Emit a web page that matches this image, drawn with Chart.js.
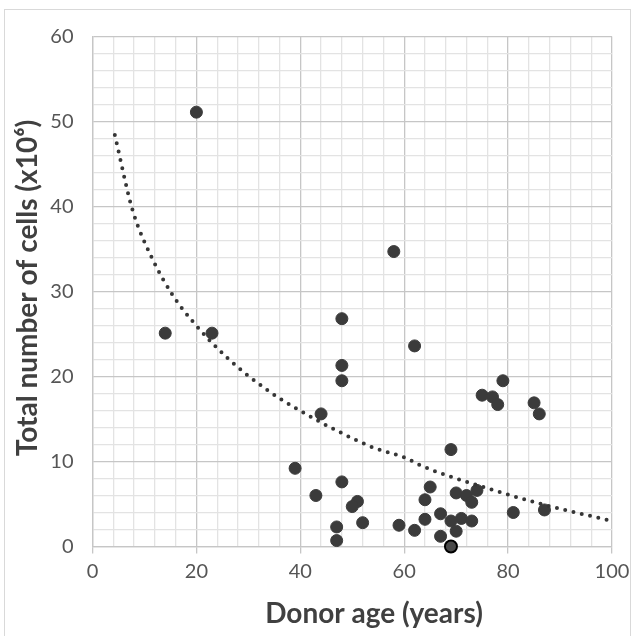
<!DOCTYPE html>
<html>
<head>
<meta charset="utf-8">
<script src="https://cdn.jsdelivr.net/npm/chart.js@4/dist/chart.umd.min.js"></script>
<style>
  html, body { margin: 0; padding: 0; background: #fff; }
  #wrap { position: relative; width: 636px; height: 636px; overflow: hidden; }
  #frame { position: absolute; left: 4px; top: 9px; width: 625px; height: 640px; border: 1px solid #d9d9d9; }
  #chart { position: absolute; left: 0; top: 0; }
</style>
</head>
<body>
<div id="wrap">
  <div id="frame"></div>
  <canvas id="chart" width="636" height="636"></canvas>
</div>
<script>
// donor age (years) and total cells (x10^6)
const ages  = [20, 14, 23, 58, 48, 62, 48, 48, 79, 75, 77, 78, 85, 86, 44, 69, 39, 48, 65, 74, 70,
               43, 72, 64, 51, 73, 50, 87, 81, 67, 71, 64, 69, 73, 52, 59, 47, 62, 70, 67, 47, 69];
const cells = [51.1, 25.1, 25.1, 34.7, 26.8, 23.6, 21.3, 19.5, 19.5, 17.8, 17.6, 16.7, 16.9, 15.6,
               15.6, 11.4, 9.2, 7.6, 7.0, 6.6, 6.3, 6.0, 6.0, 5.5, 5.3, 5.2, 4.7, 4.3, 4.0, 3.85,
               3.3, 3.2, 3.0, 3.0, 2.8, 2.5, 2.3, 1.9, 1.8, 1.2, 0.7, 0.0];

// dotted trend line
const trendX = [4.3, 7.7, 11.4, 15.4, 19.4, 26.1, 33.9, 39.6, 46.8, 54.2, 60.4, 63.3, 76, 87, 100];
const trendY = [48.4, 39.6, 34.0, 29.6, 26.4, 22.1, 18.3, 16.1, 13.7, 11.6, 10.4, 9.5, 6.85, 4.9, 3.0];

const xTickLabels = [0, 20, 40, 60, 80, 100];
const yTickLabels = [0, 10, 20, 30, 40, 50, 60];

const xTitle = 'Donor age (years)';
const yTitle = 'Total number of cells (x10\u2076)';

const majorGrid = '#c6c6c6';
const minorGrid = '#e3e3e3';
const font = 'Lato, "Open Sans", sans-serif';

// axis titles drawn by hand so they sit where Excel put them
const titlePlugin = {
    id: 'titles',
    afterDraw(chart) {
        const ctx = chart.ctx;
        ctx.save();
        ctx.fillStyle = '#404040';
        ctx.font = 'bold 28px ' + font;
        ctx.textAlign = 'center';
        ctx.textBaseline = 'middle';
        ctx.fillText(xTitle, 374, 614);
        ctx.translate(28, 288);
        ctx.rotate(-Math.PI / 2);
        ctx.fillText(yTitle, 0, 0);
        ctx.restore();
    }
};

document.addEventListener('DOMContentLoaded', function() {
    const ctx = document.getElementById('chart').getContext('2d');

    new Chart(ctx, {
        type: 'scatter',
        data: {
            datasets: [
                {
                    label: 'trend',
                    data: trendX.map((x, i) => ({ x: x, y: trendY[i] })),
                    showLine: true,
                    borderColor: '#363636',
                    borderWidth: 4,
                    borderDash: [0, 8.5],
                    borderCapStyle: 'round',
                    cubicInterpolationMode: 'monotone',
                    pointRadius: 0,
                    order: 0
                },
                {
                    label: 'cells',
                    data: ages.map((a, i) => ({ x: a, y: cells[i] })),
                    backgroundColor: c => (c.raw && c.raw.y === 0) ? '#4a4a4a' : '#3b3b3b',
                    borderColor: c => (c.raw && c.raw.y === 0) ? '#000' : '#3b3b3b',
                    borderWidth: c => (c.raw && c.raw.y === 0) ? 2 : 1,
                    pointRadius: 6,
                    clip: false,
                    order: 1
                }
            ]
        },
        options: {
            responsive: false,
            animation: false,
            events: [],
            layout: { padding: { top: 36.5, right: 24, left: 0, bottom: 0 } },
            plugins: { legend: { display: false }, tooltip: { enabled: false } },
            scales: {
                x: {
                    type: 'linear',
                    min: 0,
                    max: 100,
                    afterFit: s => { s.height = 89.5; },
                    ticks: {
                        stepSize: 4,
                        autoSkip: false,
                        maxRotation: 0,
                        padding: 6,
                        color: '#555555',
                        font: { family: font, size: 20 },
                        callback: v => xTickLabels.includes(v) ? v : ''
                    },
                    grid: {
                        color: c => xTickLabels.includes(c.tick.value) ? majorGrid : minorGrid,
                        tickColor: c => xTickLabels.includes(c.tick.value) ? majorGrid : 'rgba(0,0,0,0)',
                        tickLength: 7,
                        lineWidth: 1.3
                    },
                    border: { color: majorGrid, width: 1.3 }
                },
                y: {
                    min: 0,
                    max: 60,
                    afterFit: s => { s.width = 92.5; },
                    ticks: {
                        stepSize: 2,
                        autoSkip: false,
                        padding: 19,
                        color: '#555555',
                        font: { family: font, size: 20 },
                        callback: v => yTickLabels.includes(v) ? v : ''
                    },
                    grid: {
                        color: c => yTickLabels.includes(c.tick.value) ? majorGrid : minorGrid,
                        drawTicks: false,
                        lineWidth: 1.3
                    },
                    border: { color: majorGrid, width: 1.3 }
                }
            }
        },
        plugins: [titlePlugin]
    });
});
</script>
</body>
</html>
